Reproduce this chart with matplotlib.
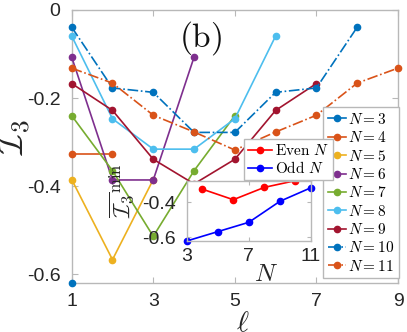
import matplotlib
matplotlib.use("Agg")
import matplotlib.pyplot as plt

plt.rcParams['font.family'] = ['Liberation Sans', 'DejaVu Sans']
plt.rcParams['mathtext.fontset'] = 'cm'
plt.rcParams['axes.unicode_minus'] = False

# ---- data ----
N_values = [3, 4, 5, 6, 7, 8, 9, 10, 11]
I3_N3 = [-0.620]
I3_N4 = [-0.326, -0.326]
I3_N5 = [-0.385, -0.567, -0.385]
I3_N6 = [-0.107, -0.386, -0.386, -0.107]
I3_N7 = [-0.240, -0.365, -0.514, -0.365, -0.240]
I3_N8 = [-0.059, -0.247, -0.316, -0.316, -0.247, -0.059]
I3_N9 = [-0.167, -0.228, -0.339, -0.395, -0.339, -0.228, -0.167]
I3_N10 = [-0.039, -0.177, -0.187, -0.278, -0.278, -0.187, -0.177, -0.039]
I3_N11 = [-0.132, -0.166, -0.239, -0.277, -0.318, -0.277, -0.239, -0.166, -0.132]
series = [I3_N3, I3_N4, I3_N5, I3_N6, I3_N7, I3_N8, I3_N9, I3_N10, I3_N11]

even_N = [4, 6, 8, 10]
even_min = [-0.326, -0.386, -0.316, -0.278]
odd_N = [3, 5, 7, 9, 11]
odd_min = [-0.620, -0.567, -0.514, -0.395, -0.318]

x_ticks = [1, 3, 5, 7, 9]
y_ticks = [-0.6, -0.4, -0.2, 0]
y_tick_labels = ['-0.6', '-0.4', '-0.2', '0']
inset_x_ticks = [3, 7, 11]
inset_y_ticks = [-0.6, -0.4]
inset_y_tick_labels = ['-0.6', '-0.4']

colors = ['#0072BD', '#D95319', '#EDB120', '#7E2F8E', '#77AC30',
          '#4DBEEE', '#A2142F', '#0072BD', '#D95319']
styles = ['-'] * 7 + ['-.', '-.']

W, H = 407, 332
fig = plt.figure(figsize=(W / 100, H / 100), dpi=100)

def fx(px):
    return px / W

def fy(py):
    return 1 - py / H

gray = '#b8b8b8'
tcol = '#262626'

ax = fig.add_axes([fx(71.7), fy(283), fx(398) - fx(71.7), fy(10) - fy(283)])
for s in ax.spines.values():
    s.set_color(gray)
    s.set_linewidth(1.0)

for N, vals, c, ls in zip(N_values, series, colors, styles):
    ell = list(range(1, len(vals) + 1))
    ax.plot(ell, vals, ls, color=c, marker='o', markersize=4.5, lw=1.2,
            label=r'$N=%d$' % N, clip_on=False, zorder=3)

ax.set_xlim(1, 9)
ax.set_ylim(-0.62, 0)
ax.set_xticks(x_ticks)
ax.set_xticklabels([str(t) for t in x_ticks])
ax.set_yticks(y_ticks)
ax.set_yticklabels(y_tick_labels)
ax.tick_params(direction='in', top=True, right=True, length=4, width=0.8,
               color=gray, labelsize=14, labelcolor=tcol)
ax.tick_params(axis='y', pad=8)
ax.tick_params(axis='x', pad=7)

ax.set_ylabel(r'$\overline{\mathcal{I}_3}$', fontsize=26, color=tcol)
ax.yaxis.set_label_coords(-0.12, 0.54)
ax.set_xlabel(r'$\ell$', fontsize=21, color=tcol)
ax.xaxis.set_label_coords((243 - 71.7) / 326.3, -(309 - 283) / 273)

ax.text(4.17, -0.064, r'$\mathrm{(b)}$', fontsize=24, ha='center', va='center',
        color='#111111')

leg = ax.legend(loc='lower right', bbox_to_anchor=(fx(399), fy(278.3)),
                bbox_transform=fig.transFigure, borderaxespad=0, fontsize=11,
                handlelength=1.2, handletextpad=0.15, labelspacing=0.22,
                borderpad=0.3, fancybox=False, framealpha=1, edgecolor=gray)
leg.get_frame().set_linewidth(1.0)
leg.set_zorder(5)

# ---- inset ----
axi = fig.add_axes([fx(186.7), fy(241), fx(311) - fx(186.7), fy(181) - fy(241)])
axi.set_zorder(4)
for s in axi.spines.values():
    s.set_color(gray)
    s.set_linewidth(1.0)
axi.plot(even_N, even_min, '-', color='red', marker='o', markersize=4.5, lw=1.2,
         label=r'$\mathrm{Even}\ N$', clip_on=False)
axi.plot(odd_N, odd_min, '-', color='blue', marker='o', markersize=4.5, lw=1.2,
         label=r'$\mathrm{Odd}\ N$', clip_on=False)
axi.set_xlim(3, 11)
axi.set_ylim(-0.62, -0.28)
axi.set_xticks(inset_x_ticks)
axi.set_xticklabels([str(t) for t in inset_x_ticks])
axi.set_yticks(inset_y_ticks)
axi.set_yticklabels(inset_y_tick_labels)
axi.tick_params(direction='in', top=True, right=True, length=3, width=0.8,
                color=gray, labelsize=14, labelcolor=tcol)
axi.tick_params(axis='y', pad=8)
axi.tick_params(axis='x', pad=5)
axi.set_xlabel(r'$N$', fontsize=18, color=tcol)
axi.xaxis.set_label_coords((266 - 186.7) / (311 - 186.7), -(262 - 241) / 60)
axi.set_ylabel(r'$\overline{\mathcal{I}_3}^{\min}$', fontsize=17, color=tcol)
axi.yaxis.set_label_coords(-0.41, 0.83)

legi = axi.legend(loc='upper left', bbox_to_anchor=(fx(244), fy(139.3)),
                  bbox_transform=fig.transFigure, borderaxespad=0, fontsize=11,
                  handlelength=1.6, handletextpad=0.2, labelspacing=0.15,
                  borderpad=0.25, fancybox=False, framealpha=1, edgecolor=gray)
legi.get_frame().set_linewidth(1.0)

fig.savefig('out.png', dpi=100)
